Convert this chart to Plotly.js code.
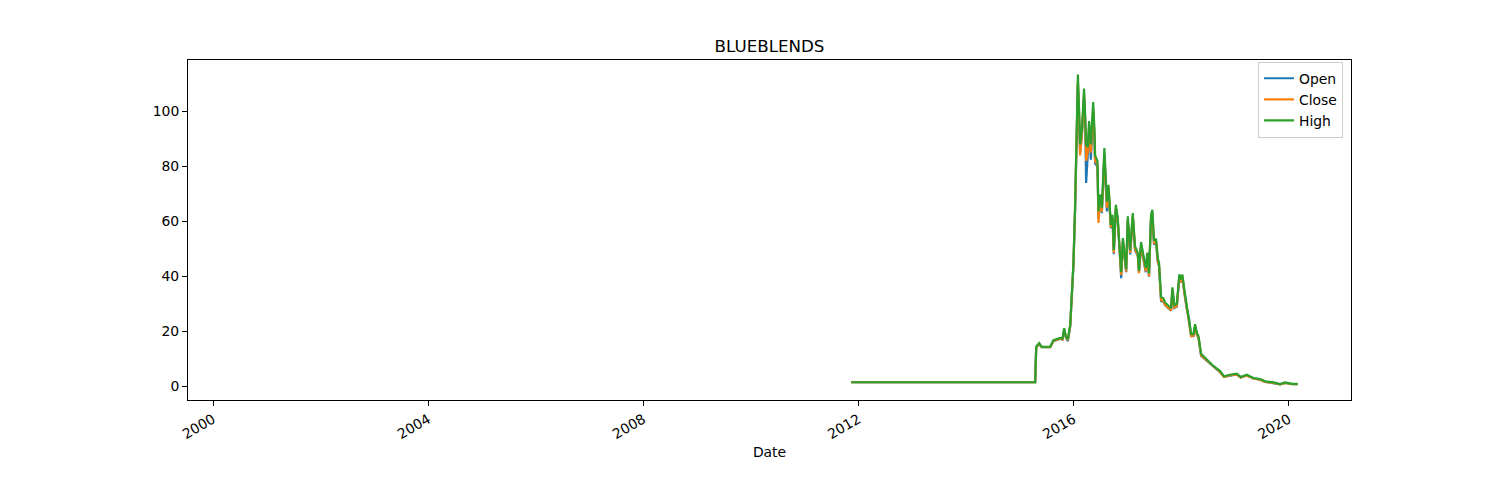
<!DOCTYPE html>
<html>
<head>
<meta charset="utf-8">
<script src="https://cdn.plot.ly/plotly-3.0.1.min.js"></script>
<style>
  body { margin: 0; background: #fff; }
  #chart { width: 1500px; height: 500px; }
</style>
</head>
<body>
<div id="chart"></div>
<script>
// values
var dates = [
  '2011-11-13', '2012-06-01', '2013-06-01', '2014-06-01', '2015-04-16',
  '2015-04-23', '2015-05-13', '2015-05-31', '2015-07-27', '2015-08-18',
  '2015-09-10', '2015-10-03', '2015-10-18', '2015-10-30', '2015-11-10',
  '2015-11-24', '2015-12-10', '2015-12-21', '2016-01-01', '2016-01-12',
  '2016-01-24', '2016-01-31', '2016-02-09', '2016-02-15', '2016-02-27',
  '2016-03-13', '2016-03-20', '2016-03-27', '2016-04-08', '2016-04-16',
  '2016-04-28', '2016-05-14', '2016-05-22', '2016-05-27', '2016-06-12',
  '2016-06-19', '2016-06-30', '2016-07-12', '2016-07-29', '2016-08-08',
  '2016-08-15', '2016-08-26', '2016-09-11', '2016-09-22', '2016-10-01',
  '2016-10-15', '2016-10-28', '2016-11-08', '2016-11-20', '2016-12-02',
  '2016-12-12', '2016-12-24', '2017-01-04', '2017-01-20', '2017-02-07',
  '2017-02-22', '2017-03-13', '2017-03-21', '2017-04-04', '2017-04-20',
  '2017-05-06', '2017-05-17', '2017-05-28', '2017-06-11', '2017-06-20',
  '2017-07-01', '2017-07-15', '2017-07-27', '2017-08-04', '2017-08-18',
  '2017-09-03', '2017-09-14', '2017-10-07', '2017-10-25', '2017-11-03',
  '2017-11-16', '2017-12-03', '2017-12-20', '2018-01-01', '2018-01-10',
  '2018-01-23', '2018-02-08', '2018-02-24', '2018-03-10', '2018-03-26',
  '2018-04-06', '2018-04-18', '2018-04-29', '2018-05-17', '2018-06-13',
  '2018-07-10', '2018-08-08', '2018-09-23', '2018-10-20', '2018-11-29',
  '2019-01-14', '2019-02-10', '2019-03-23', '2019-05-07', '2019-06-22',
  '2019-07-26', '2019-09-21', '2019-11-05', '2019-12-09', '2020-01-23',
  '2020-03-03'
];

var openVals = [
  1.45, 1.45, 1.45, 1.45, 1.45,
  14.2, 15.3, 14.2, 14.2, 16.4,
  16.8, 17.3, 17.0, 20.5, 17.8,
  16.4, 21.8, 34, 44, 64,
  97, 110, 96, 85, 91,
  105, 97, 74, 85, 94,
  82.4, 100, 91, 81, 80,
  61, 68, 63, 84, 69,
  63.6, 71.5, 57.5, 61, 48,
  64.5, 60, 50.5, 39.3, 52.5,
  48, 41.5, 60, 48, 61.5,
  49.5, 47.5, 41.5, 51, 46.5,
  41.5, 47.5, 39.9, 61, 62.5,
  51.5, 52.5, 45, 43.8, 31,
  30.8, 29.5, 28.4, 27.5, 35,
  28.5, 29, 39.5, 37.8, 39.5,
  34, 28.3, 24.6, 18.2, 18.2,
  21.7, 18.8, 17.6, 11, 9.8,
  8.6, 7, 5.1, 3.4, 3.9,
  4.3, 3.2, 3.9, 2.8, 2.4,
  1.6, 1.2, 0.7, 1.2, 0.8,
  0.8
];

var closeVals = [
  1.45, 1.45, 1.45, 1.45, 1.45,
  14.2, 15.3, 14.2, 14.2, 16.5,
  16.8, 17.3, 17.0, 20.6, 18.0,
  16.8, 22.0, 34.5, 44.5, 64.5,
  97.5, 111, 97, 84, 91.5,
  106, 97.5, 82, 85.5, 94.5,
  85, 101, 92, 81.8, 80.6,
  59.4, 68.5, 63.5, 84.5, 69.5,
  65, 72, 57.8, 61.5, 48.5,
  65, 60.3, 50.8, 40.5, 53,
  48.3, 41.8, 60.5, 48.5, 62,
  50, 47.5, 41.1, 51.3, 46.7,
  41.8, 47.8, 40.0, 61.5, 63,
  52, 52.7, 45.3, 44, 31.3,
  31, 29.6, 28.6, 27.6, 35.2,
  28.7, 29.2, 39.8, 38, 39.8,
  34.3, 28.8, 24.8, 18.3, 18.4,
  21.8, 18.9, 17.7, 11.2, 9.9,
  8.7, 7.1, 5.2, 3.4, 4.0,
  4.3, 3.2, 3.9, 2.8, 2.4,
  1.6, 1.2, 0.7, 1.2, 0.8,
  0.8
];

var highVals = [
  1.45, 1.45, 1.45, 1.45, 1.45,
  14.4, 15.7, 14.3, 14.4, 16.8,
  17.1, 17.6, 17.3, 21.1, 18.3,
  17.1, 22.5, 35, 45, 65.5,
  99, 113.4, 99, 88, 93,
  108.3, 99, 88, 87, 96.5,
  88, 103.4, 94, 84, 82,
  63.6, 69.7, 64.8, 86.7, 71,
  67.2, 73.3, 58.7, 62.4, 49.5,
  66, 61.2, 51.5, 41.5, 53.9,
  49, 42.5, 61.8, 49.5, 63,
  51, 48.5, 42, 52.5, 47.5,
  43, 48.6, 41, 62.5, 64.2,
  53, 53.6, 46.5, 45, 32.5,
  32, 30.5, 29.4, 28.4, 36,
  29.5, 30, 40.7, 38.9, 40.6,
  35.2, 29.6, 25.6, 19, 19,
  22.6, 19.5, 18.3, 11.8, 10.3,
  9.1, 7.4, 5.5, 3.6, 4.2,
  4.6, 3.4, 4.2, 3.0, 2.6,
  1.8, 1.4, 0.8, 1.4, 0.9,
  0.85
];

var seriesNames = ['Open', 'Close', 'High'];
var seriesColors = ['#1f77b4', '#ff7f0e', '#2ca02c'];
var seriesValues = [openVals, closeVals, highVals];

var traces = seriesNames.map(function(name, i) {
  return {
    x: dates,
    y: seriesValues[i],
    name: name,
    type: 'scatter',
    mode: 'lines',
    line: { color: seriesColors[i], width: 2.2 }
  };
});

var layout = {
  width: 1500,
  height: 500,
  margin: { t: 60, b: 100, l: 188, r: 149 },
  paper_bgcolor: '#fff',
  plot_bgcolor: '#fff',
  font: { family: 'DejaVu Sans', size: 13.9, color: '#000' },
  title: {
    text: 'BLUEBLENDS',
    font: { size: 16.7 },
    x: 0.5,
    xref: 'paper',
    y: 1 - 46 / 500,
    yref: 'container',
    yanchor: 'middle'
  },
  xaxis: {
    type: 'date',
    range: ['1999-07-15', '2021-02-28'],
    tick0: '2000-01-01',
    dtick: 'M48',
    tickformat: '%Y',
    tickangle: -30,
    ticks: 'outside',
    ticklen: 5,
    tickcolor: '#000',
    showgrid: false,
    zeroline: false,
    showline: true,
    mirror: true,
    linecolor: '#000',
    linewidth: 1,
    title: { text: 'Date', font: { size: 13.9 }, standoff: 6 }
  },
  yaxis: {
    range: [-5, 118.7],
    tickvals: [0, 20, 40, 60, 80, 100],
    ticks: 'outside',
    ticklen: 5,
    tickcolor: '#000',
    showgrid: false,
    zeroline: false,
    showline: true,
    mirror: true,
    linecolor: '#000',
    linewidth: 1
  },
  legend: {
    x: 0.9931,
    xanchor: 'right',
    y: 0.995,
    yanchor: 'top',
    bgcolor: 'rgba(255,255,255,0.8)',
    bordercolor: '#cccccc',
    borderwidth: 1,
    itemwidth: 30,
    font: { size: 13.9 }
  },
  showlegend: true
};

Plotly.newPlot('chart', traces, layout, { displayModeBar: false, staticPlot: true });
</script>
</body>
</html>
